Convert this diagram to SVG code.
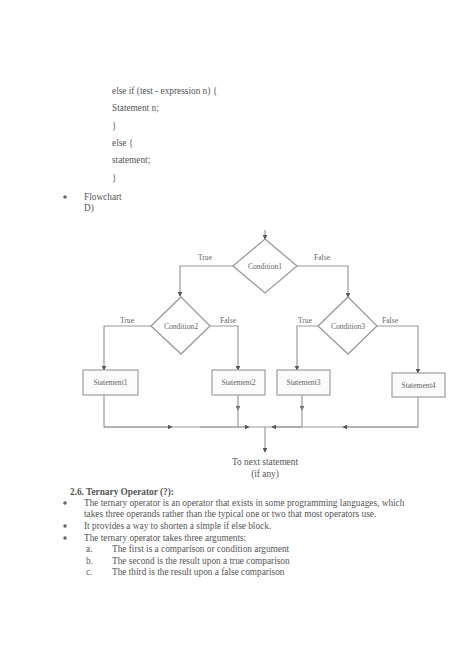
<svg xmlns="http://www.w3.org/2000/svg" width="474" height="670" viewBox="0 0 474 670">
<defs>
<marker id="ah" viewBox="0 0 8 8" refX="7" refY="4" markerWidth="5" markerHeight="5" orient="auto" markerUnits="userSpaceOnUse">
<path d="M0,0 L8,4 L0,8 z" fill="#555"/>
</marker>
</defs>
<style>
.t{font-family:"Liberation Serif",serif;font-size:9.3px;fill:#555}
.s{font-family:"Liberation Serif",serif;font-size:7.6px;fill:#666}
.b{font-weight:bold}
.ln{fill:none;stroke:#9a9a9a;stroke-width:1.2}
.arr{fill:none;stroke:#9a9a9a;stroke-width:1.2;marker-end:url(#ah)}
.dm{fill:#fff;stroke:#9a9a9a;stroke-width:1.3}
.bx{fill:#fbfbfb;stroke:#a5a5a5;stroke-width:1.3}
.mid{text-anchor:middle}
</style>
<rect width="474" height="670" fill="#fff"/>
<g id="code">
<text class="t" x="112" y="94">else if (test - expression n) {</text>
<text class="t" x="112" y="111">Statement n;</text>
<text class="t" x="112" y="129">}</text>
<text class="t" x="112" y="146">else {</text>
<text class="t" x="112" y="163">statement;</text>
<text class="t" x="112" y="181">}</text>
<circle cx="65" cy="197" r="1.8" fill="#666"/>
<text class="t" x="84" y="200">Flowchart</text>
<text class="t" x="84" y="211">D)</text>
</g>
<g id="connectors">
<path class="arr" d="M265,230 V239"/>
<path class="arr" d="M233,266 H180 V296"/>
<path class="arr" d="M297,266 H348 V297"/>
<path class="arr" d="M151,326 H104 V370"/>
<path class="arr" d="M210,326 H238 V370"/>
<path class="arr" d="M318,326 H297 V370"/>
<path class="arr" d="M377,326 H418 V373"/>
<path class="ln" d="M104,395 V427 H418 V397"/>
<path class="arr" d="M238,395 V410"/>
<path class="ln" d="M238,405 V427"/>
<path class="arr" d="M302,395 V410"/>
<path class="ln" d="M302,405 V427"/>
<path class="arr" d="M104,427 H172"/>
<path class="arr" d="M200,427 H249"/>
<path class="arr" d="M302,427 H272"/>
<path class="arr" d="M418,427 H343"/>
<path class="arr" d="M265,427 V452"/>
<text class="s" x="205" y="260" text-anchor="middle">True</text>
<text class="s" x="322" y="260" text-anchor="middle">False</text>
<text class="s" x="127" y="323" text-anchor="middle">True</text>
<text class="s" x="228" y="323" text-anchor="middle">False</text>
<text class="s" x="305" y="323" text-anchor="middle">True</text>
<text class="s" x="390" y="323" text-anchor="middle">False</text>
</g>
<g id="cond1">
<polygon class="dm" points="265,239 297,266 265,293 233,266"/>
<text class="s mid" x="265" y="268.5">Condition1</text>
</g>
<g id="cond2">
<polygon class="dm" points="181,297 210,326 181,354 151,326"/>
<text class="s mid" x="181" y="328.5">Condition2</text>
</g>
<g id="cond3">
<polygon class="dm" points="348,297 377,326 348,354 318,326"/>
<text class="s mid" x="348" y="328.5">Condition3</text>
</g>
<g id="st1">
<rect class="bx" x="83" y="370" width="55" height="25"/>
<text class="s mid" x="110.5" y="385">Statement1</text>
</g>
<g id="st2">
<rect class="bx" x="212" y="370" width="53" height="25"/>
<text class="s mid" x="238.5" y="385">Statement2</text>
</g>
<g id="st3">
<rect class="bx" x="277" y="370" width="53" height="25"/>
<text class="s mid" x="303.5" y="385">Statement3</text>
</g>
<g id="st4">
<rect class="bx" x="392" y="373" width="53" height="24"/>
<text class="s mid" x="418.5" y="387.5">Statement4</text>
</g>
<g id="next">
<text class="t mid" x="265" y="465">To next statement</text>
<text class="t mid" x="265" y="477">(if any)</text>
</g>
<g id="section">
<text class="t b" x="70" y="495">2.6. Ternary Operator (?):</text>
<circle cx="65" cy="503" r="1.8" fill="#666"/>
<text class="t" x="84" y="506">The ternary operator is an operator that exists in some programming languages, which</text>
<text class="t" x="84" y="517">takes three operands rather than the typical one or two that most operators use.</text>
<circle cx="65" cy="526" r="1.8" fill="#666"/>
<text class="t" x="84" y="529">It provides a way to shorten a simple if else block.</text>
<circle cx="65" cy="538" r="1.8" fill="#666"/>
<text class="t" x="84" y="541">The ternary operator takes three arguments:</text>
<text class="t" x="86" y="552">a.</text>
<text class="t" x="112" y="552">The first is a comparison or condition argument</text>
<text class="t" x="86" y="564">b.</text>
<text class="t" x="112" y="564">The second is the result upon a true comparison</text>
<text class="t" x="86" y="575">c.</text>
<text class="t" x="112" y="575">The third is the result upon a false comparison</text>
</g>
</svg>
